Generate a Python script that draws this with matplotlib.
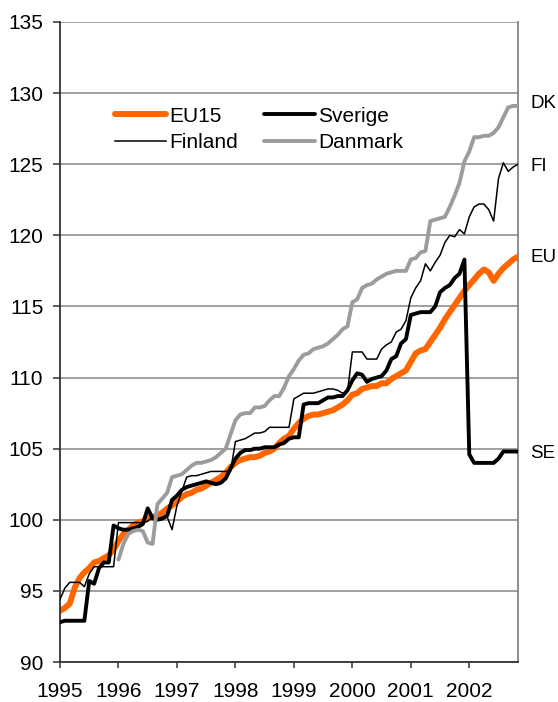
import matplotlib
matplotlib.use("Agg")
import matplotlib.pyplot as plt
import numpy as np

plt.rcParams['font.family'] = ['Liberation Sans', 'DejaVu Sans']

# Monthly index, Jan 1995 (0) .. Nov 2002 (94)
years = [1995, 1996, 1997, 1998, 1999, 2000, 2001, 2002]
yticks = [90, 95, 100, 105, 110, 115, 120, 125, 130, 135]

eu15 = [93.6, 93.8, 94.1, 95.2, 95.9, 96.3, 96.6, 97.0, 97.1, 97.3, 97.5, 97.9,
        98.5, 99.0, 99.3, 99.6, 99.8, 99.9, 100.1, 100.2, 100.3, 100.5, 100.8, 101.0,
        101.3, 101.6, 101.8, 101.9, 102.1, 102.2, 102.4, 102.6, 102.8, 103.0, 103.3, 103.7,
        104.0, 104.2, 104.3, 104.4, 104.4, 104.5, 104.7, 104.8, 105.0, 105.4, 105.7, 105.9,
        106.4, 106.8, 107.1, 107.3, 107.4, 107.4, 107.5, 107.6, 107.7, 107.9, 108.1, 108.4,
        108.8, 108.9, 109.2, 109.3, 109.4, 109.4, 109.6, 109.6, 109.9, 110.1, 110.3, 110.5,
        111.1, 111.7, 111.9, 112.0, 112.5, 113.0, 113.5, 114.1, 114.6, 115.1, 115.6, 116.1,
        116.5, 116.9, 117.3, 117.6, 117.4, 116.8, 117.3, 117.7, 118.0, 118.3, 118.5]

sverige = [92.8, 92.9, 92.9, 92.9, 92.9, 92.9, 95.7, 95.5, 96.6, 97.0, 97.0, 99.6,
           99.4, 99.3, 99.3, 99.4, 99.5, 99.7, 100.8, 100.1, 100.0, 100.1, 100.3, 101.4,
           101.7, 102.1, 102.3, 102.4, 102.5, 102.6, 102.7, 102.6, 102.5, 102.6, 102.9, 103.6,
           104.3, 104.7, 104.9, 104.9, 105.0, 105.0, 105.1, 105.1, 105.1, 105.3, 105.4, 105.7,
           105.8, 105.8, 108.1, 108.2, 108.2, 108.2, 108.4, 108.6, 108.6, 108.7, 108.7, 109.1,
           109.8, 110.3, 110.2, 109.7, 109.9, 110.0, 110.1, 110.5, 111.3, 111.5, 112.4, 112.7,
           114.4, 114.5, 114.6, 114.6, 114.6, 115.0, 116.0, 116.3, 116.5, 117.0, 117.3, 118.3,
           104.6, 104.0, 104.0, 104.0, 104.0, 104.0, 104.3, 104.8, 104.8, 104.8, 104.8]

finland = [94.4, 95.2, 95.6, 95.6, 95.6, 95.3, 96.2, 96.7, 96.7, 96.7, 96.7, 96.7,
           99.8, 99.8, 99.8, 99.8, 99.8, 99.8, 99.9, 100.2, 100.0, 100.0, 100.2, 99.3,
           101.0, 102.0, 103.0, 103.1, 103.1, 103.2, 103.3, 103.4, 103.4, 103.4, 103.4, 103.4,
           105.5, 105.6, 105.7, 105.9, 106.1, 106.1, 106.2, 106.5, 106.5, 106.5, 106.5, 106.5,
           108.5, 108.7, 108.9, 108.9, 108.9, 109.0, 109.1, 109.2, 109.2, 109.1, 108.9, 109.0,
           111.8, 111.8, 111.8, 111.3, 111.3, 111.3, 112.0, 112.3, 112.5, 113.2, 113.4, 114.0,
           115.6, 116.3, 116.8, 118.0, 117.5, 118.1, 118.6, 119.5, 120.0, 119.9, 120.4, 120.1,
           121.3, 122.0, 122.2, 122.2, 121.8, 121.0, 124.0, 125.1, 124.5, 124.8, 125.0]

# Danmark starts Jan 1996 (index 12)
danmark = [97.2, 98.3, 99.0, 99.2, 99.3, 99.2, 98.4, 98.3, 101.1, 101.5, 101.9, 103.0,
           103.1, 103.2, 103.5, 103.8, 104.0, 104.0, 104.1, 104.2, 104.4, 104.7, 105.0, 106.0,
           107.0, 107.4, 107.5, 107.5, 107.9, 107.9, 108.0, 108.4, 108.7, 108.7, 109.3, 110.1,
           110.6, 111.2, 111.6, 111.7, 112.0, 112.1, 112.2, 112.4, 112.7, 113.0, 113.4, 113.6,
           115.3, 115.5, 116.3, 116.5, 116.6, 116.9, 117.1, 117.3, 117.4, 117.5, 117.5, 117.5,
           118.3, 118.4, 118.8, 118.9, 121.0, 121.1, 121.2, 121.3, 122.0, 122.8, 123.7, 125.2,
           125.9, 126.9, 126.9, 127.0, 127.0, 127.2, 127.6, 128.3, 129.0, 129.1, 129.1]

end_names = ['DK', 'FI', 'EU', 'SE']

n = len(eu15)
t = 1995 + np.arange(n) / 12.0
t_dk = t[n - len(danmark):]

FS = 15

fig = plt.figure(figsize=(5.58, 7.02), dpi=100)
ax = fig.add_axes([60/558, 40/702, 458/558, 640/702])

grid_c = '#868686'
for v in yticks:
    ax.axhline(v, color=grid_c, lw=1.1, zorder=0)

l_eu, = ax.plot(t, eu15, color='#FF6600', lw=4.3, solid_capstyle='round', zorder=2, label='EU15')
l_se, = ax.plot(t, sverige, color='black', lw=2.8, solid_capstyle='round', zorder=3, label='Sverige')
l_fi, = ax.plot(t, finland, color='black', lw=1.1, zorder=4, label='Finland')
l_dk, = ax.plot(t_dk, danmark, color='#9C9C9C', lw=2.8, solid_capstyle='round', zorder=5, label='Danmark')

ax.set_xlim(t[0], t[-1])
ax.set_ylim(90, 135)
ax.set_yticks(yticks)
ax.set_xticks(years)
ax.set_xticklabels([str(y) for y in years])

ax.spines['top'].set_visible(False)
ax.spines['right'].set_color(grid_c)
ax.spines['right'].set_linewidth(1.3)
ax.spines['left'].set_color('#333333')
ax.spines['bottom'].set_color('#333333')
ax.spines['left'].set_linewidth(1.3)
ax.spines['bottom'].set_linewidth(1.3)

ax.tick_params(axis='y', direction='out', length=5, width=1.1, color='#333333',
               labelsize=FS, pad=7)
ax.tick_params(axis='x', direction='out', length=4.5, width=1.1, color='#333333',
               labelsize=FS, pad=10)

leg = ax.legend(handles=[l_eu, l_fi, l_se, l_dk], ncol=2, frameon=False,
                loc='upper left', bbox_to_anchor=(0.097, 0.884), borderpad=0,
                handlelength=2.45, handletextpad=0.15, columnspacing=1.25,
                labelspacing=0.36, fontsize=FS)

end_vals = [danmark[-1] + 0.3, finland[-1], eu15[-1] + 0.1, sverige[-1]]
for lab, v in zip(end_names, end_vals):
    ax.annotate(lab, xy=(t[-1], v), xytext=(12, -2), textcoords='offset pixels',
                va='center', ha='left', fontsize=13.5, annotation_clip=False)

fig.savefig('out.png', dpi=100)
